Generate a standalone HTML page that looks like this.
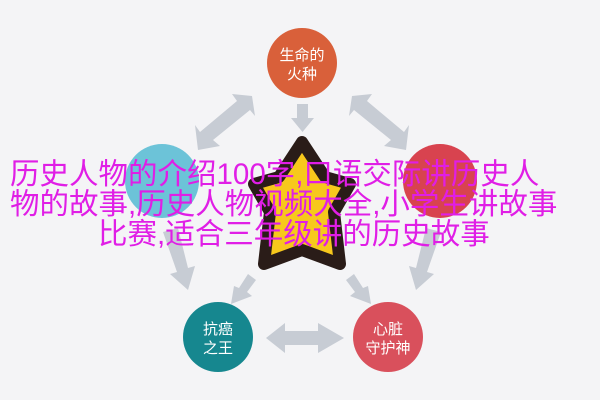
<!DOCTYPE html>
<html><head><meta charset="utf-8"><style>
body{margin:0;width:600px;height:400px;background:#f4f4f6;overflow:hidden;position:relative;font-family:"Liberation Sans","Noto Sans CJK SC",sans-serif}
svg{position:absolute;left:0;top:0}
.t{position:absolute;color:#e01ee6;font-size:29.5px;line-height:30px;font-family:"Liberation Sans","Noto Sans CJK SC",sans-serif;white-space:nowrap}
</style></head><body>
<svg width="600" height="400">
<g fill="#c7ccd4">
<polygon points="252,96 232,94 237,101 200,132 195,125 198,150 220,146 213,140 250,110 255,116"/>
<polygon points="352,96 372,94 367,101 404,132 409,125 406,150 384,146 391,140 354,110 349,116"/>
<polygon points="297,104 308,104 308,118 314,118 302.5,132 291,118 297,118"/>
<polygon points="163,232 178,228 188,268 195,266 188,290 170,274 177,272"/>
<polygon points="441,232 426,228 416,268 409,266 416,290 434,274 427,272"/>
<polygon points="248,274 256,280 247,292 252,296 231,304 234,286 239,288"/>
<polygon points="354,274 346,280 355,292 350,296 371,304 368,286 363,288"/>
<polygon points="266,338 285,323 285,331 318,331 318,323 344,338 318,353 318,345 285,345 285,353"/>
</g>
<circle cx="302" cy="63" r="35" fill="#d9603a"/>
<circle cx="162" cy="181" r="37" fill="#6cc3d8"/>
<circle cx="440" cy="181" r="37" fill="#d8434f"/>
<circle cx="218" cy="337" r="35" fill="#16878f"/>
<circle cx="388" cy="337" r="35" fill="#d9505c"/>
<polygon points="302,142 325,177 350,184 334,212 340,264 302,250 264,264 270,212 254,184 279,177" fill="#f7c81c" stroke="#2a1c18" stroke-width="12" stroke-linejoin="round"/>
<g fill="#fff" font-size="15" text-anchor="middle" font-family="Liberation Sans,Noto Sans CJK SC,sans-serif">
<text x="302" y="60">生命的</text><text x="302" y="79">火种</text>
<text x="218" y="334">抗癌</text><text x="218" y="353">之王</text>
<text x="388" y="334">心脏</text><text x="388" y="353">守护神</text>
</g>
</svg>
<div class="t" style="top:160px;left:10px">历史人物的介绍100字,口语交际讲历史人</div>
<div class="t" style="top:190px;left:10px">物的故事,历史人物视频大全,小学生讲故事</div>
<div class="t" style="top:220px;left:98px">比赛,适合三年级讲的历史故事</div>
</body></html>
